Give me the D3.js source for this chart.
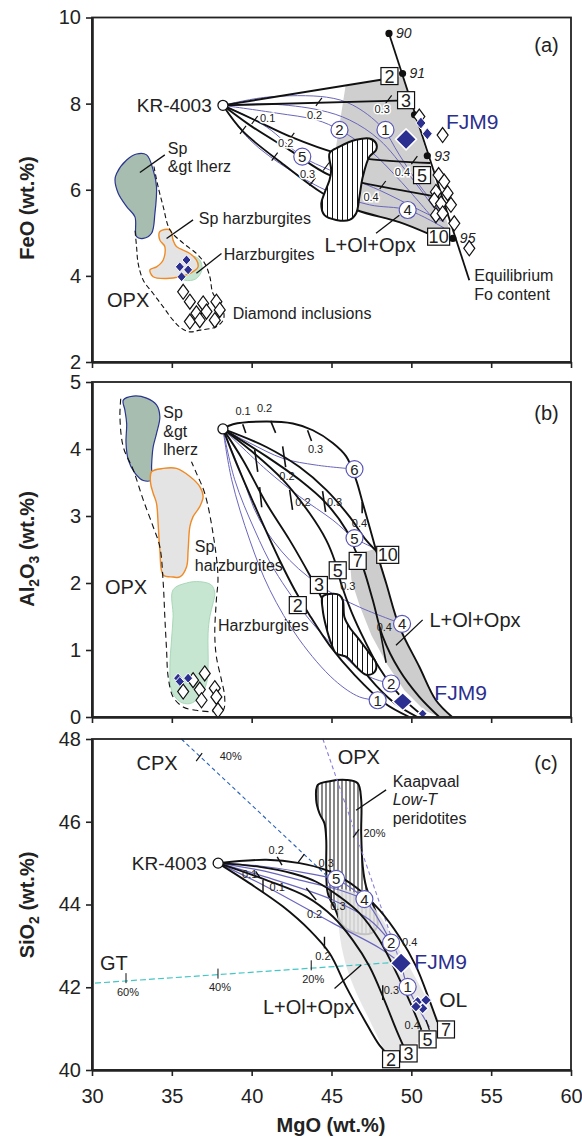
<!DOCTYPE html>
<html>
<head>
<meta charset="utf-8">
<script src="https://cdn.jsdelivr.net/npm/d3@7"></script>
<style>
  body { margin: 0; background: #fff; }
  svg text { font-family: "Liberation Sans", Arial, Helvetica, sans-serif; fill: #222; }
</style>
</head>
<body>
<div id="chart"></div>
<script>
// ---------- panel (a): FeO vs MgO ----------
var krA = [38.2, 7.96];
var foMgO = [48.6, 49.45, 50.2, 51.0, 52.6];
var foFeO = [9.63, 8.70, 7.74, 6.79, 4.87];
var foLabels = ["90", "91", "", "93", "95"];
var foEnds = [[48.6, 9.63], [53.63, 3.90]];

var aBlack = [
    [[38.2, 7.96], [48.19, 8.56]],
    [[38.2, 7.96], [49.13, 8.07]],
    [[38.2, 7.96], [40.19, 7.62], [42.5, 7.22], [45.31, 6.85], [47.38, 6.71], [51.19, 6.62]],
    [[38.2, 7.96], [39.88, 7.50], [42.38, 6.92], [44.88, 6.34], [46.94, 6.16], [51.75, 5.83]],
    [[38.2, 7.96], [39.44, 7.36], [42.06, 6.57], [44.44, 5.92], [46.56, 5.53], [49.25, 5.25], [51.13, 4.97]]
];
var aBlue = [
    [[38.2, 7.96], [40.94, 8.15], [44.69, 8.15], [46.31, 7.97], [48.13, 7.46], [49.25, 6.81], [50.5, 6.11], [51.75, 5.53]],
    [[38.2, 7.96], [41.13, 7.99], [44.25, 7.85], [46.13, 7.62], [48.0, 7.16], [49.88, 6.34], [51.75, 5.41]],
    [[38.2, 7.96], [41.56, 7.78], [44.06, 7.62], [45.5, 7.39], [47.38, 6.92], [49.25, 6.23], [51.44, 5.30]],
    [[38.2, 7.96], [40.92, 7.46], [43.17, 6.77], [44.88, 6.46], [48.0, 5.99], [50.5, 5.53], [52.06, 5.25]],
    [[38.2, 7.96], [39.88, 7.16], [42.38, 6.46], [44.88, 5.95], [47.38, 5.65], [49.77, 5.53], [52.06, 5.11]]
];
var aGray = [[45.88, 8.41], [48.19, 8.56], [49.5, 8.64], [52.5, 4.93], [51.31, 4.97], [49.25, 5.23], [46.56, 5.53], [45.5, 5.76], [45.25, 6.92]];
var aHatch = [[44.88, 6.85], [45.5, 7.0], [46.54, 7.16], [47.38, 7.19], [47.79, 7.08], [47.79, 6.92], [47.38, 6.77], [46.96, 6.30], [46.75, 5.84], [46.54, 5.45], [46.13, 5.30], [45.29, 5.30], [44.56, 5.41], [44.36, 5.68], [44.56, 5.92], [44.88, 6.23], [44.98, 6.46]];
var aTickMgO = [40.19, 42.48, 44.21, 48.58, 39.46, 41.44, 43.81, 44.67, 50.19, 48.21];
var aTickFeO = [7.62, 7.23, 8.04, 8.10, 7.39, 6.77, 6.19, 6.54, 6.69, 6.11];
var aFracText = ["0.1", "0.2", "0.3", "0.2", "0.3", "0.4", "0.4"];
var aFracMgO = [41.0, 43.94, 48.17, 42.13, 43.5, 49.44, 47.48];
var aFracFeO = [7.66, 7.74, 7.88, 7.09, 6.37, 6.42, 5.82];
var aCircText = ["1", "2", "5", "4"];
var aCircMgO = [48.38, 45.5, 43.17, 49.77];
var aCircFeO = [7.39, 7.39, 6.77, 5.53];
var aBoxText = ["2", "3", "5", "10"];
var aBoxMgO = [48.63, 49.67, 50.67, 51.71];
var aBoxFeO = [8.64, 8.08, 6.34, 4.91];
var aFjm9 = [49.67, 7.17];
var aFjm9Small = [[50.6, 7.55], [51.0, 7.30]];
var aOpenRight = [[50.5, 7.70], [51.96, 7.27], [51.71, 6.34], [52.06, 6.19], [51.54, 5.95], [52.27, 5.92], [51.44, 5.76], [51.86, 5.68], [52.48, 5.65], [51.54, 5.41], [51.96, 5.45], [52.69, 5.22], [53.63, 4.64]];
var aLherz = [[31.54, 6.38], [32.17, 6.69], [32.79, 6.83], [33.42, 6.81], [33.83, 6.46], [34.04, 6.07], [33.94, 5.45], [33.73, 4.99], [33.21, 4.87], [32.79, 4.91], [32.69, 5.37], [32.17, 5.61], [31.64, 5.92], [31.44, 6.23]];
var aSpHarz = [[34.25, 5.03], [34.88, 5.07], [35.08, 4.83], [35.29, 4.68], [36.13, 4.52], [36.54, 4.37], [36.64, 4.21], [36.33, 4.10], [35.5, 3.98], [34.67, 3.94], [33.83, 3.98], [33.63, 4.14], [34.04, 4.21], [34.46, 4.37], [34.56, 4.68], [34.25, 4.83]];
var aHarz = [[35.5, 4.32], [36.25, 4.46], [36.75, 4.37], [36.88, 4.14], [36.5, 3.93], [35.81, 3.90], [35.38, 4.02]];
var aOpxDash = [[33.88, 6.54], [34.14, 6.07], [34.46, 5.61], [34.88, 5.07], [35.71, 4.76], [36.54, 4.52], [37.06, 4.29], [37.38, 3.98], [37.58, 3.59], [38.11, 3.32], [38.25, 3.01], [37.79, 2.82], [36.75, 2.74], [36.13, 2.70], [35.61, 2.78], [35.08, 2.97], [34.46, 3.28], [33.83, 3.59], [33.21, 3.90], [32.89, 4.29], [32.79, 4.68], [32.69, 5.07]];
var aOpxBlue = [[35.92, 4.37], [35.5, 4.21], [36.02, 4.14], [35.61, 3.98]];
var aDiamondIncl = [[35.71, 3.63], [36.13, 3.40], [36.96, 3.36], [37.79, 3.40], [36.54, 3.13], [37.17, 3.17], [38.0, 3.21], [36.13, 2.94], [36.75, 2.97], [37.69, 2.97]];

// ---------- panel (b): Al2O3 vs MgO ----------
var krB = [38.2, 4.3];
var bOuter = [[38.19, 4.30], [38.83, 4.37], [40.92, 4.41], [42.58, 4.38], [43.83, 4.28], [45.08, 4.09], [45.92, 3.89], [46.54, 3.54], [46.96, 3.19], [47.38, 2.84], [47.79, 2.49], [48.42, 2.0], [49.25, 1.35], [50.5, 0.75], [51.54, 0.25], [52.56, 0.0]];
var bBlack = [
    [[38.2, 4.3], [40.92, 4.03], [43.0, 3.73], [44.67, 3.39], [46.13, 2.99], [47.17, 2.64], [47.88, 2.46]],
    [[38.2, 4.3], [40.92, 3.89], [43.0, 3.54], [44.67, 3.19], [45.92, 2.79], [46.54, 2.46], [46.96, 2.24], [47.58, 1.75], [48.21, 1.20], [49.25, 0.70], [50.5, 0.30], [51.75, 0.0]],
    [[38.2, 4.3], [39.88, 3.99], [41.96, 3.54], [43.63, 3.04], [44.67, 2.64], [45.19, 2.34], [45.63, 1.97], [46.25, 1.57], [47.06, 1.15], [48.0, 0.73], [49.25, 0.33], [50.81, 0.0]],
    [[38.2, 4.3], [39.44, 3.84], [40.92, 3.19], [42.38, 2.64], [43.63, 2.12], [44.38, 1.78], [45.19, 1.37], [46.13, 1.0], [47.38, 0.58], [48.94, 0.21], [50.38, 0.0]],
    [[38.2, 4.3], [39.04, 3.79], [40.5, 2.99], [41.75, 2.34], [42.69, 1.90], [43.63, 1.52], [44.88, 1.07], [46.44, 0.63], [48.31, 0.21], [49.88, 0.0]]
];
var bBlue = [
    [[38.2, 4.3], [39.88, 4.09], [41.96, 3.86], [44.04, 3.76], [46.44, 3.70]],
    [[38.2, 4.3], [40.92, 3.69], [43.0, 3.29], [45.08, 2.94], [46.44, 2.67], [48.0, 2.49]],
    [[38.2, 4.3], [39.25, 3.69], [40.5, 2.94], [42.38, 2.34], [44.67, 1.90], [46.75, 1.64], [49.42, 1.39]],
    [[38.2, 4.3], [38.94, 3.54], [40.19, 2.79], [41.44, 2.19], [43.63, 1.45], [45.69, 0.93], [47.38, 0.60], [48.73, 0.50]],
    [[38.2, 4.3], [38.75, 3.54], [39.88, 2.64], [41.13, 1.90], [43.0, 1.15], [45.19, 0.55], [46.75, 0.30], [47.89, 0.25]]
];
var bGray = [[46.13, 2.40], [46.25, 2.04], [46.75, 1.67], [47.5, 1.22], [48.5, 0.78], [49.56, 0.40], [50.81, 0.10], [51.75, 0.0], [52.56, 0.0], [51.54, 0.25], [50.5, 0.75], [49.25, 1.35], [48.42, 2.0], [47.88, 2.52]];
var bHatch = [[44.45, 1.80], [45.08, 1.84], [45.5, 1.82], [45.71, 1.74], [45.81, 1.49], [46.13, 1.34], [46.75, 1.15], [47.38, 0.95], [47.79, 0.80], [47.69, 0.67], [47.17, 0.63], [46.54, 0.75], [45.92, 0.90], [45.29, 0.95], [44.98, 1.10], [44.67, 1.34], [44.45, 1.60]];
var bTicks = [[39.44, 4.37, 39.63, 4.24], [41.19, 4.42, 41.5, 4.24], [43.5, 4.28, 43.75, 4.12], [41.94, 4.04, 42.13, 3.73], [40.19, 3.99, 40.38, 3.66], [42.38, 3.39, 42.56, 3.09], [44.44, 3.37, 44.63, 3.06], [46.92, 3.21, 46.92, 3.04], [40.5, 3.43, 40.63, 3.13], [48.0, 1.34, 48.42, 0.81]];
var bFracText = ["0.1", "0.2", "0.3", "0.2", "0.2", "0.3", "0.4", "0.3", "0.4"];
var bFracMgO = [39.46, 40.81, 44.0, 42.21, 43.21, 45.19, 46.75, 46.02, 48.31];
var bFracAl = [4.57, 4.61, 4.0, 3.60, 3.20, 3.21, 2.89, 1.96, 1.34];
var bCircText = ["6", "5", "4", "2", "1"];
var bCircMgO = [46.44, 46.44, 49.42, 48.73, 47.89];
var bCircAl = [3.70, 2.67, 1.39, 0.50, 0.25];
var bBoxText = ["2", "3", "5", "7", "10"];
var bBoxMgO = [42.89, 44.21, 45.39, 46.64, 48.52];
var bBoxAl = [1.67, 1.97, 2.19, 2.33, 2.42];
var bFjm9 = [49.46, 0.23];
var bFjm9Small = [[50.71, 0.05]];
var bLherz = [[31.96, 4.73], [32.58, 4.79], [33.42, 4.76], [34.04, 4.66], [34.25, 4.48], [34.04, 4.23], [33.83, 4.03], [33.73, 3.74], [33.73, 3.54], [33.21, 3.53], [32.69, 3.64], [32.27, 3.84], [32.13, 4.09], [32.17, 4.38], [32.06, 4.58]];
var bSpHarz = [[33.73, 3.66], [34.46, 3.71], [35.29, 3.71], [36.13, 3.59], [36.75, 3.44], [36.96, 3.29], [36.75, 3.14], [36.33, 2.99], [36.13, 2.84], [36.02, 2.49], [35.92, 2.24], [35.5, 2.09], [35.08, 2.09], [34.46, 2.12], [34.25, 2.49], [34.14, 2.89], [34.04, 3.19], [33.83, 3.34], [33.67, 3.49]];
var bHarz = [[35.08, 1.90], [35.92, 2.0], [36.75, 2.02], [37.48, 1.97], [37.69, 1.85], [37.58, 1.70], [37.38, 1.50], [37.27, 1.25], [37.27, 0.75], [37.17, 0.50], [36.75, 0.30], [36.13, 0.20], [35.5, 0.23], [34.98, 0.40], [34.88, 0.75], [34.98, 1.15], [35.08, 1.50]];
var bOpxDash = [[31.8, 4.75], [31.75, 4.48], [31.96, 4.03], [32.58, 3.69], [33.21, 3.24], [33.83, 2.84], [34.25, 2.54], [34.46, 2.0], [34.56, 1.50], [34.67, 1.0], [34.77, 0.60], [35.08, 0.30], [35.71, 0.15], [36.54, 0.10], [37.58, 0.08], [38.21, 0.10], [38.31, 0.30], [38.11, 0.55], [37.79, 0.90], [37.69, 1.25], [37.79, 1.75], [37.89, 2.09], [37.58, 2.74], [37.06, 3.34], [36.54, 3.64], [36.23, 3.81]];
var bOpxOpen = [[37.06, 0.65], [36.33, 0.55], [35.71, 0.38], [36.75, 0.41], [37.69, 0.43], [37.79, 0.30], [36.86, 0.25], [37.89, 0.10]];
var bOpxBlue = [[35.39, 0.58], [36.02, 0.58], [35.5, 0.53]];

// ---------- panel (c): SiO2 vs MgO ----------
var krC = [37.9, 45.0];
var cBlack = [
    [[37.9, 45.0], [40.92, 45.08], [43.0, 45.0], [44.67, 44.83], [45.71, 44.63], [46.75, 44.35], [48.0, 43.87], [49.25, 43.22], [50.29, 42.51], [51.13, 41.69], [51.63, 41.16]],
    [[37.9, 45.0], [40.5, 44.91], [42.58, 44.75], [44.04, 44.55], [45.5, 44.19], [46.75, 43.79], [48.0, 43.14], [49.13, 42.30], [50.0, 41.57], [50.63, 40.97]],
    [[37.9, 45.0], [40.92, 44.59], [43.42, 44.19], [45.08, 43.71], [46.33, 43.14], [47.38, 42.50], [48.31, 41.69], [49.06, 40.97], [49.5, 40.58]],
    [[37.9, 45.0], [39.88, 44.51], [41.96, 43.95], [43.63, 43.38], [44.88, 42.82], [45.92, 42.01], [47.06, 41.21], [48.0, 40.60], [48.5, 40.39]]
];
var cBlue = [
    [[37.9, 45.0], [40.5, 44.93], [43.0, 44.79], [45.29, 44.62]],
    [[37.9, 45.0], [40.5, 44.83], [43.0, 44.59], [45.5, 44.35], [47.06, 44.13]],
    [[37.9, 45.0], [40.92, 44.66], [45.08, 44.11], [47.38, 43.63], [48.73, 43.08]],
    [[37.9, 45.0], [40.92, 44.43], [45.08, 43.55], [48.0, 42.95], [49.36, 42.58]],
    [[45.29, 44.62], [47.06, 44.13], [48.73, 43.08]],
    [[49.36, 42.58], [49.77, 42.01], [51.13, 41.04]]
];
var cGray = [[45.38, 44.35], [46.75, 44.23], [48.0, 43.75], [49.06, 43.02], [49.88, 42.49], [50.69, 41.93], [51.38, 41.45], [51.75, 41.09], [51.13, 40.85], [50.06, 40.56], [49.25, 40.24], [48.63, 40.19], [48.19, 40.56], [47.38, 41.21], [46.56, 41.86], [45.94, 42.49], [45.56, 43.14], [45.38, 43.87]];
var cKaapvaal = [[44.14, 46.89], [44.88, 46.98], [45.92, 47.01], [46.64, 46.93], [46.86, 46.53], [46.86, 45.72], [46.96, 44.91], [47.17, 44.43], [47.48, 44.11], [47.79, 43.79], [47.88, 43.50], [47.5, 43.31], [46.56, 43.31], [45.69, 43.50], [45.25, 43.87], [44.77, 44.27], [44.67, 44.91], [44.67, 45.56], [44.56, 45.96], [44.25, 46.20], [44.04, 46.53]];
var cCpxLine = [[35.6, 48.0], [45.13, 44.54]];
var cOpxLine = [[44.46, 48.0], [49.3, 42.6]];
var cGtLine = [[30.19, 42.10], [49.3, 42.61]];
var cTicks = [[41.6, 45.15, 41.9, 44.95], [40.25, 44.8, 40.5, 44.66], [40.71, 44.59, 40.71, 44.28], [44.94, 44.83, 45.0, 44.59], [44.98, 44.35, 44.98, 44.11], [43.42, 44.40, 44.04, 44.11], [44.56, 43.22, 44.56, 42.94], [48.21, 42.05, 48.21, 41.69], [50.92, 41.21, 51.13, 40.97]];
var cFracText = ["0.2", "0.1", "0.1", "0.3", "0.3", "0.2", "0.2", "0.4", "0.3", "0.4"];
var cFracMgO = [41.54, 39.88, 41.6, 44.67, 45.4, 43.94, 44.46, 49.9, 48.75, 50.05];
var cFracSi = [45.32, 44.74, 44.43, 45.0, 43.95, 43.77, 42.74, 43.08, 41.93, 41.09];
var cCircText = ["5", "4", "2", "1"];
var cCircMgO = [45.29, 47.06, 48.73, 49.77];
var cCircSi = [44.62, 44.13, 43.08, 42.01];
var cBoxText = ["2", "3", "5", "7"];
var cBoxMgO = [48.73, 49.83, 51.02, 52.17];
var cBoxSi = [40.26, 40.40, 40.74, 40.98];
var cFjm9 = [49.36, 42.58];
var cOl = [[50.39, 41.65], [50.92, 41.69], [50.71, 41.49], [50.29, 41.53]];
var cMixTicks = [[36.71, 47.56], [43.11, 45.12]];
var cGtTicks = [[32.13, 42.22], [37.89, 42.33], [43.73, 42.53]];
var cGtTickText = ["60%", "40%", "20%"];

var xTicks = [30, 35, 40, 45, 50, 55, 60];

// ---------- setup ----------
var svgWidth = 582;
var svgHeight = 1138;

var svg = d3.select("#chart")
    .append("svg")
    .attr("width", svgWidth)
    .attr("height", svgHeight);

var defs = svg.append("defs");
function hatchPattern(id, step) {
    var p = defs.append("pattern")
        .attr("id", id)
        .attr("width", step)
        .attr("height", step)
        .attr("patternUnits", "userSpaceOnUse");
    p.append("rect").attr("width", step).attr("height", step).attr("fill", "#fff");
    p.append("line").attr("x1", step / 2).attr("x2", step / 2).attr("y1", 0).attr("y2", step)
        .attr("stroke", "#111").attr("stroke-width", 1);
}
hatchPattern("hatchAB", 5);
hatchPattern("hatchC", 4);

var x = d3.scaleLinear().domain([30, 60]).range([92, 571]);
var yA = d3.scaleLinear().domain([2, 10]).range([362, 17.5]);
var yB = d3.scaleLinear().domain([0, 5]).range([717, 382]);
var yC = d3.scaleLinear().domain([40, 48]).range([1070, 739]);

var BLUE = "#2b2f8f";
var CURVE_BLUE = "#6a66bd";

function smooth(y) {
    return d3.line().x(d => x(d[0])).y(d => y(d[1])).curve(d3.curveCatmullRom.alpha(0.5));
}
function straight(y) {
    return d3.line().x(d => x(d[0])).y(d => y(d[1]));
}
function blob(y) {
    return d3.line().x(d => x(d[0])).y(d => y(d[1])).curve(d3.curveCatmullRomClosed.alpha(0.5));
}

function txt(g, s, px, py, size, anchor, opts) {
    opts = opts || {};
    var t = g.append("text")
        .attr("x", px)
        .attr("y", py)
        .attr("dy", "0.35em")
        .attr("font-size", size)
        .attr("text-anchor", anchor || "start")
        .text(s);
    if (opts.fill) t.style("fill", opts.fill);
    if (opts.italic) t.attr("font-style", "italic");
    if (opts.halo) t.attr("stroke", "#fff").attr("stroke-width", 3).attr("paint-order", "stroke");
    return t;
}

function leader(g, y, p1, p2) {
    g.append("line")
        .attr("x1", x(p1[0])).attr("y1", y(p1[1]))
        .attr("x2", x(p2[0])).attr("y2", y(p2[1]))
        .attr("stroke", "#111").attr("stroke-width", 1.3);
}

function diamond(g, y, pts, hw, hh, fill, stroke, sw) {
    g.selectAll(null)
        .data(pts)
        .enter()
        .append("path")
        .attr("d", d => `M${x(d[0])},${y(d[1]) - hh}L${x(d[0]) + hw},${y(d[1])}L${x(d[0])},${y(d[1]) + hh}L${x(d[0]) - hw},${y(d[1])}Z`)
        .attr("fill", fill)
        .attr("stroke", stroke)
        .attr("stroke-width", sw);
}

function numCircles(g, y, labels, mx, my) {
    var c = g.selectAll(null).data(labels).enter().append("g")
        .attr("transform", (d, i) => `translate(${x(mx[i])},${y(my[i])})`);
    c.append("circle").attr("r", 8.5).attr("fill", "#fff").attr("stroke", "#5a56b6").attr("stroke-width", 1.2);
    c.append("text").attr("text-anchor", "middle").attr("dy", "0.36em").attr("font-size", 15).text(d => d);
}

function numBoxes(g, y, labels, mx, my) {
    var b = g.selectAll(null).data(labels).enter().append("g")
        .attr("transform", (d, i) => `translate(${x(mx[i])},${y(my[i])})`);
    b.append("rect")
        .attr("x", d => d.length > 1 ? -11 : -8.5)
        .attr("y", -8.5)
        .attr("width", d => d.length > 1 ? 22 : 17)
        .attr("height", 17)
        .attr("fill", "#fff").attr("stroke", "#111").attr("stroke-width", 1.2);
    b.append("text").attr("text-anchor", "middle").attr("dy", "0.36em").attr("font-size", 18).text(d => d);
}

function slashTicks(g, y, mx, my) {
    g.selectAll(null).data(mx).enter().append("line")
        .attr("x1", (d, i) => x(d) - 3).attr("y1", (d, i) => y(my[i]) + 4)
        .attr("x2", (d, i) => x(d) + 3).attr("y2", (d, i) => y(my[i]) - 4)
        .attr("stroke", "#111").attr("stroke-width", 1.2);
}

function segTicks(g, y, segs, w) {
    g.selectAll(null).data(segs).enter().append("line")
        .attr("x1", d => x(d[0])).attr("y1", d => y(d[1]))
        .attr("x2", d => x(d[2])).attr("y2", d => y(d[3]))
        .attr("stroke", "#111").attr("stroke-width", w);
}

function fracLabels(g, y, texts, mx, my, halo) {
    texts.forEach(function(s, i) {
        txt(g, s, x(mx[i]), y(my[i]), 11, "middle", { halo: halo });
    });
}

function krPoint(g, y, p) {
    g.append("circle").attr("cx", x(p[0])).attr("cy", y(p[1])).attr("r", 5)
        .attr("fill", "#fff").attr("stroke", "#111").attr("stroke-width", 1.3);
}

function axes(y, vals, showX) {
    var y0 = y.range()[0], y1 = y.range()[1];
    svg.append("rect")
        .attr("x", 92).attr("y", y1)
        .attr("width", 479).attr("height", y0 - y1)
        .attr("fill", "none").attr("stroke", "#222").attr("stroke-width", 1.8);

    var left = svg.append("g")
        .attr("transform", "translate(92,0)")
        .call(d3.axisLeft(y).tickValues(vals).tickSize(6).tickSizeOuter(0).tickPadding(5)
            .tickFormat(d3.format("d")));
    left.select(".domain").attr("stroke-width", 2.6).attr("stroke", "#222");
    left.selectAll(".tick line").attr("stroke-width", 1.6).attr("stroke", "#222");
    left.selectAll("text").attr("font-size", 20).attr("font-family", null);

    var bottom = svg.append("g")
        .attr("transform", `translate(0,${y0})`)
        .call(d3.axisBottom(x).tickValues(xTicks).tickSize(6).tickSizeOuter(0).tickPadding(13)
            .tickFormat(showX ? d3.format("d") : ""));
    bottom.select(".domain").attr("stroke-width", 2.4).attr("stroke", "#222");
    bottom.selectAll(".tick line").attr("stroke-width", 1.6).attr("stroke", "#222");
    bottom.selectAll("text").attr("font-size", 20).attr("font-family", null);
}

// ---------- panel (a) ----------
var gA = svg.append("g");

gA.append("path").attr("d", straight(yA)(aGray) + "Z").attr("fill", "#cfcfcf");
aBlue.forEach(function(c) {
    gA.append("path").attr("d", smooth(yA)(c)).attr("fill", "none").attr("stroke", CURVE_BLUE).attr("stroke-width", 1);
});
aBlack.forEach(function(c) {
    gA.append("path").attr("d", smooth(yA)(c)).attr("fill", "none").attr("stroke", "#111").attr("stroke-width", 1.9);
});
gA.append("path").attr("d", blob(yA)(aHatch)).attr("fill", "url(#hatchAB)").attr("stroke", "#111").attr("stroke-width", 2);

// equilibrium Fo line
gA.append("path").attr("d", straight(yA)(foEnds)).attr("stroke", "#111").attr("stroke-width", 1.8);
gA.selectAll(null).data(foMgO).enter().append("circle")
    .attr("cx", d => x(d)).attr("cy", (d, i) => yA(foFeO[i])).attr("r", 3.6).attr("fill", "#111");
foLabels.forEach(function(s, i) {
    if (s) txt(gA, s, x(foMgO[i]) + 7, yA(foFeO[i]), 14, "start", { italic: true });
});

slashTicks(gA, yA, aTickMgO, aTickFeO);
fracLabels(gA, yA, aFracText, aFracMgO, aFracFeO, true);

diamond(gA, yA, aOpenRight, 5.5, 7.5, "#fff", "#111", 1.2);
diamond(gA, yA, aFjm9Small, 5, 6, BLUE, "#fff", 1);
diamond(gA, yA, [aFjm9], 10.5, 10.5, BLUE, "#fff", 1.5);
numCircles(gA, yA, aCircText, aCircMgO, aCircFeO);
numBoxes(gA, yA, aBoxText, aBoxMgO, aBoxFeO);
krPoint(gA, yA, krA);

// OPX field of panel (a)
gA.append("path").attr("d", blob(yA)(aLherz)).attr("fill", "#a6bdb0").attr("stroke", "#2a3590").attr("stroke-width", 1.2);
gA.append("path").attr("d", blob(yA)(aHarz)).attr("fill", "#c6e6d1").attr("stroke", "#a8d8b8").attr("stroke-width", 1);
gA.append("path").attr("d", blob(yA)(aSpHarz)).attr("fill", "#e4e4e4").attr("stroke", "#f08a24").attr("stroke-width", 1.4);
gA.append("path").attr("d", smooth(yA)(aOpxDash)).attr("fill", "none").attr("stroke", "#111")
    .attr("stroke-width", 1.1).attr("stroke-dasharray", "5,3");
diamond(gA, yA, aOpxBlue, 4.5, 5, BLUE, "#fff", 1);
diamond(gA, yA, aDiamondIncl, 5.5, 7.5, "#fff", "#111", 1.2);

txt(gA, "KR-4003", x(37.5), yA(7.96), 19, "end");
txt(gA, "Sp", x(34.75), yA(6.97), 16);
txt(gA, "&gt lherz", x(34.75), yA(6.54), 16);
leader(gA, yA, [34.56, 6.81], [33.0, 6.40]);
txt(gA, "Sp harzburgites", x(36.69), yA(5.34), 16);
leader(gA, yA, [36.33, 5.30], [34.67, 4.87]);
txt(gA, "Harzburgites", x(38.25), yA(4.51), 16);
leader(gA, yA, [38.11, 4.52], [36.54, 4.06]);
txt(gA, "OPX", x(30.94), yA(3.44), 20);
txt(gA, "Diamond inclusions", x(38.81), yA(3.14), 16);
txt(gA, "L+Ol+Opx", x(44.56), yA(4.71), 20);
leader(gA, yA, [47.79, 4.99], [49.25, 5.41]);
txt(gA, "FJM9", x(52.17), yA(7.58), 21, "start", { fill: BLUE });
txt(gA, "Equilibrium", x(53.94), yA(4.0), 16);
txt(gA, "Fo content", x(53.94), yA(3.56), 16);
txt(gA, "(a)", x(57.7), yA(9.35), 20);

// ---------- panel (b) ----------
var gB = svg.append("g");

gB.append("path").attr("d", straight(yB)(bGray) + "Z").attr("fill", "#cdcdcd");
bBlue.forEach(function(c) {
    gB.append("path").attr("d", smooth(yB)(c)).attr("fill", "none").attr("stroke", CURVE_BLUE).attr("stroke-width", 1);
});
gB.append("path").attr("d", smooth(yB)(bOuter)).attr("fill", "none").attr("stroke", "#111").attr("stroke-width", 1.9);
bBlack.forEach(function(c) {
    gB.append("path").attr("d", smooth(yB)(c)).attr("fill", "none").attr("stroke", "#111").attr("stroke-width", 1.9);
});
gB.append("path").attr("d", blob(yB)(bHatch)).attr("fill", "url(#hatchAB)").attr("stroke", "#111").attr("stroke-width", 2);

segTicks(gB, yB, bTicks, 1.6);
fracLabels(gB, yB, bFracText, bFracMgO, bFracAl, false);

diamond(gB, yB, [bFjm9], 10, 9, BLUE, "#fff", 1.5);
diamond(gB, yB, bFjm9Small, 5, 5, BLUE, "#fff", 1.5);
numCircles(gB, yB, bCircText, bCircMgO, bCircAl);
numBoxes(gB, yB, bBoxText, bBoxMgO, bBoxAl);
krPoint(gB, yB, krB);

gB.append("path").attr("d", blob(yB)(bHarz)).attr("fill", "#c6e6d1").attr("stroke", "#a8d8b8").attr("stroke-width", 1);
gB.append("path").attr("d", blob(yB)(bLherz)).attr("fill", "#a6bdb0").attr("stroke", "#2a3590").attr("stroke-width", 1.2);
gB.append("path").attr("d", blob(yB)(bSpHarz)).attr("fill", "#e4e4e4").attr("stroke", "#f08a24").attr("stroke-width", 1.4);
gB.append("path").attr("d", smooth(yB)(bOpxDash)).attr("fill", "none").attr("stroke", "#111")
    .attr("stroke-width", 1.1).attr("stroke-dasharray", "6,4");
diamond(gB, yB, bOpxOpen, 5.5, 7.5, "#fff", "#111", 1.2);
diamond(gB, yB, bOpxBlue, 4.5, 5, BLUE, "#fff", 1);

txt(gB, "Sp", x(34.46), yB(4.54), 16);
txt(gB, "&gt", x(34.46), yB(4.26), 16);
txt(gB, "lherz", x(34.46), yB(3.99), 16);
txt(gB, "Sp", x(36.44), yB(2.54), 16);
txt(gB, "harzburgites", x(36.44), yB(2.27), 16);
txt(gB, "Harzburgites", x(37.89), yB(1.37), 16);
txt(gB, "OPX", x(30.81), yB(1.94), 20);
txt(gB, "L+Ol+Opx", x(51.13), yB(1.45), 20);
leader(gB, yB, [50.71, 1.45], [49.04, 1.07]);
txt(gB, "FJM9", x(51.44), yB(0.37), 21, "start", { fill: BLUE });
txt(gB, "(b)", x(57.7), yB(4.54), 20);

// ---------- panel (c) ----------
var gC = svg.append("g");

gC.append("path").attr("d", blob(yC)(cKaapvaal)).attr("fill", "url(#hatchC)").attr("stroke", "#111").attr("stroke-width", 2);
gC.append("path").attr("d", blob(yC)(cGray)).attr("fill", "#e2e2e2").attr("opacity", 0.85);

gC.append("path").attr("d", straight(yC)(cCpxLine)).attr("stroke", "#2a62b8").attr("stroke-width", 1.1).attr("stroke-dasharray", "4,3");
gC.append("path").attr("d", straight(yC)(cOpxLine)).attr("stroke", "#8a80d8").attr("stroke-width", 1.1).attr("stroke-dasharray", "4,3");
gC.append("path").attr("d", straight(yC)(cGtLine)).attr("stroke", "#44c6c6").attr("stroke-width", 1.2).attr("stroke-dasharray", "6,3");

cBlue.forEach(function(c) {
    gC.append("path").attr("d", smooth(yC)(c)).attr("fill", "none").attr("stroke", CURVE_BLUE).attr("stroke-width", 1.2);
});
cBlack.forEach(function(c) {
    gC.append("path").attr("d", smooth(yC)(c)).attr("fill", "none").attr("stroke", "#111").attr("stroke-width", 1.9);
});

segTicks(gC, yC, cTicks, 1.4);
fracLabels(gC, yC, cFracText, cFracMgO, cFracSi, false);

// mixing line ticks
slashTicks(gC, yC, cMixTicks.map(d => d[0]), cMixTicks.map(d => d[1]));
gC.selectAll(null).data(cGtTicks).enter().append("line")
    .attr("x1", d => x(d[0])).attr("x2", d => x(d[0]))
    .attr("y1", d => yC(d[1]) - 5).attr("y2", d => yC(d[1]) + 5)
    .attr("stroke", "#111").attr("stroke-width", 1);
cGtTickText.forEach(function(s, i) {
    txt(gC, s, x(cGtTicks[i][0]) + 2, yC(cGtTicks[i][1]) + 14, 11, "middle");
});
txt(gC, "40%", x(38.0), yC(47.59), 11);
slashTicks(gC, yC, [46.54], [45.72]);
txt(gC, "20%", x(47.0), yC(45.72), 11);

diamond(gC, yC, cOl, 5.5, 5.5, BLUE, "#fff", 1.2);
diamond(gC, yC, [cFjm9], 10.5, 10.5, BLUE, "#fff", 1.5);
numCircles(gC, yC, cCircText, cCircMgO, cCircSi);
numBoxes(gC, yC, cBoxText, cBoxMgO, cBoxSi);
krPoint(gC, yC, krC);

txt(gC, "KR-4003", x(37.19), yC(45.0), 19, "end");
txt(gC, "CPX", x(32.79), yC(47.41), 20);
txt(gC, "OPX", x(45.39), yC(47.57), 20);
txt(gC, "GT", x(30.5), yC(42.58), 20);
txt(gC, "Kaapvaal", x(48.83), yC(46.97), 16);
txt(gC, "Low-T", x(48.83), yC(46.53), 16, "start", { italic: true });
txt(gC, "peridotites", x(48.83), yC(46.08), 16);
leader(gC, yC, [48.42, 46.77], [46.54, 46.28]);
txt(gC, "L+Ol+Opx", x(40.71), yC(41.53), 20);
leader(gC, yC, [45.19, 41.97], [46.86, 42.54]);
txt(gC, "FJM9", x(50.19), yC(42.62), 21, "start", { fill: BLUE });
txt(gC, "OL", x(51.75), yC(41.69), 21);
txt(gC, "(c)", x(57.7), yC(47.41), 20);

// ---------- frames, axes, titles ----------
axes(yA, [2, 4, 6, 8, 10], false);
axes(yB, [0, 1, 2, 3, 4, 5], false);
axes(yC, [40, 42, 44, 46, 48], true);

svg.append("text")
    .attr("transform", "translate(34,208) rotate(-90)")
    .attr("text-anchor", "middle").attr("font-size", 20).attr("font-weight", "bold")
    .text("FeO (wt.%)");

var alTitle = svg.append("text")
    .attr("transform", "translate(34,549) rotate(-90)")
    .attr("text-anchor", "middle").attr("font-size", 20).attr("font-weight", "bold");
alTitle.append("tspan").text("Al");
alTitle.append("tspan").attr("font-size", 14).attr("dy", 5).text("2");
alTitle.append("tspan").attr("dy", -5).text("O");
alTitle.append("tspan").attr("font-size", 14).attr("dy", 5).text("3");
alTitle.append("tspan").attr("dy", -5).text(" (wt.%)");

var siTitle = svg.append("text")
    .attr("transform", "translate(34,905) rotate(-90)")
    .attr("text-anchor", "middle").attr("font-size", 20).attr("font-weight", "bold");
siTitle.append("tspan").text("SiO");
siTitle.append("tspan").attr("font-size", 14).attr("dy", 5).text("2");
siTitle.append("tspan").attr("dy", -5).text(" (wt.%)");

svg.append("text")
    .attr("x", 331).attr("y", 1132)
    .attr("text-anchor", "middle").attr("font-size", 20).attr("font-weight", "bold")
    .text("MgO (wt.%)");
</script>
</body>
</html>
